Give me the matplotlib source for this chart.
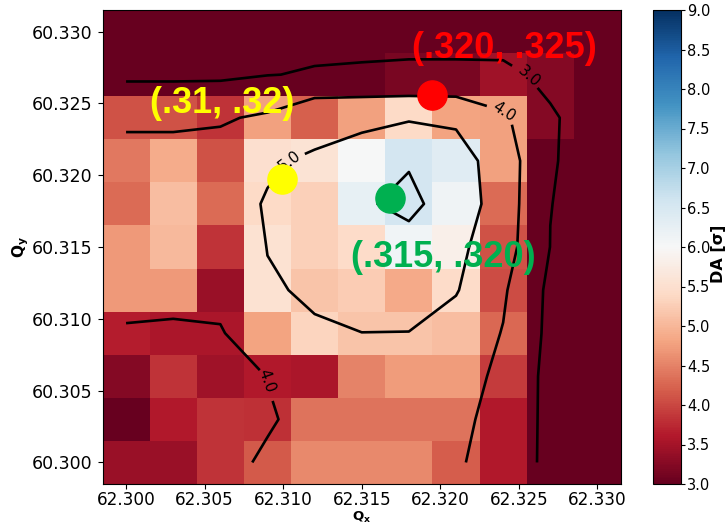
import matplotlib
matplotlib.use('Agg')
import numpy as np
import matplotlib.pyplot as plt

# Tune scan grid (horizontal / vertical tunes)
qx = [62.300, 62.303, 62.306, 62.309, 62.312, 62.315, 62.318, 62.321, 62.324, 62.327, 62.330]
qy = [60.300, 60.303, 60.306, 60.309, 60.312, 60.315, 60.318, 60.321, 60.324, 60.327, 60.330]

# Dynamic aperture per tune point [sigma], rows from qy = 60.300 upwards
da_map = [
    [3.40, 3.40, 3.83, 4.15, 4.56, 4.56, 4.56, 4.18, 3.60, 2.80, 2.80],
    [2.90, 3.60, 3.83, 3.80, 4.37, 4.37, 4.37, 4.37, 3.60, 2.80, 2.80],
    [3.25, 3.83, 3.45, 3.60, 3.55, 4.50, 4.72, 4.72, 3.90, 2.80, 2.80],
    [3.65, 3.55, 3.55, 4.80, 5.34, 5.15, 5.15, 5.07, 4.27, 2.80, 2.80],
    [4.71, 4.71, 3.40, 5.55, 5.15, 5.24, 4.87, 5.42, 4.05, 2.80, 2.80],
    [4.71, 5.02, 3.83, 5.55, 5.28, 5.42, 6.11, 5.83, 4.10, 2.80, 2.80],
    [4.30, 5.07, 4.30, 5.40, 5.28, 6.24, 6.55, 6.13, 4.30, 2.80, 2.80],
    [4.41, 4.88, 4.10, 5.50, 5.57, 6.00, 6.55, 6.36, 4.76, 2.80, 2.80],
    [4.10, 4.10, 3.83, 4.76, 4.20, 4.76, 5.40, 4.80, 4.76, 3.25, 2.80],
    [2.80, 2.80, 2.80, 2.80, 2.80, 2.80, 3.15, 3.15, 3.45, 3.25, 2.80],
    [2.80, 2.80, 2.80, 2.80, 2.80, 2.80, 2.80, 2.80, 2.80, 2.80, 2.80],
]

# Smoothed DA used for the iso-lines, same grid
da_smooth = [
    [3.40, 3.40, 3.79, 4.10, 4.50, 4.50, 4.50, 4.13, 3.51, 2.80, 2.80],
    [3.10, 3.60, 3.70, 3.93, 4.23, 4.40, 4.40, 4.32, 3.54, 2.80, 2.80],
    [3.30, 3.80, 3.60, 4.017, 4.40, 4.70, 4.75, 4.83, 3.57, 2.80, 2.80],
    [3.90, 3.90, 3.90, 4.90, 4.96, 4.99, 4.98, 4.60, 3.96, 2.78, 2.80],
    [4.33, 4.20, 4.38, 4.96, 5.05, 5.50, 5.50, 5.06, 4.12, 2.80, 2.80],
    [4.50, 4.60, 4.60, 5.01, 5.50, 5.60, 5.70, 5.22, 4.43, 2.99, 2.80],
    [4.40, 4.50, 4.80, 5.035, 5.50, 5.90, 6.20, 5.575, 4.51, 3.01, 2.80],
    [4.20, 4.20, 4.38, 4.94, 5.07, 5.28, 5.93, 5.40, 4.54, 3.04, 2.80],
    [3.90, 3.90, 3.90, 4.14, 4.80, 4.85, 4.91, 4.85, 4.17, 3.05, 2.80],
    [2.83, 2.83, 2.85, 2.98, 3.05, 3.08, 3.11, 3.11, 3.10, 2.90, 2.80],
    [2.80, 2.80, 2.80, 2.80, 2.80, 2.80, 2.80, 2.80, 2.80, 2.80, 2.80],
]
contour_levels = [3.0, 4.0, 5.0, 6.0]

# Working points
wp_names = ['(.31, .32)', '(.320, .325)', '(.315, .320)']
wp_qx = [62.3099, 62.3195, 62.3168]
wp_qy = [60.3197, 60.3256, 60.3184]
wp_colors = ['#ffff00', '#ff0000', '#00b050']
wp_text_xy = [(62.3061, 60.3250), (62.3241, 60.3288), (62.3202, 60.3143)]

fig = plt.figure(figsize=(7.25, 5.26), dpi=100)
ax = fig.add_axes([102.5 / 725, 1 - 484 / 526, 518.5 / 725, 474 / 526])
cax = fig.add_axes([653 / 725, 1 - 484 / 526, 28 / 725, 474 / 526])

mesh = ax.pcolormesh(qx, qy, np.array(da_map), cmap='RdBu', vmin=3, vmax=9,
                     shading='nearest')

cs = ax.contour(qx, qy, np.array(da_smooth), levels=contour_levels,
                colors='k', linewidths=1.9)
ax.clabel(cs, levels=[3.0, 4.0, 5.0], fmt='%1.1f', fontsize=11,
          manual=[(62.3257, 60.3269), (62.3240, 60.3244),
                  (62.3101, 60.3213), (62.3090, 60.3057)])

for x, y, c in zip(wp_qx, wp_qy, wp_colors):
    ax.plot(x, y, 'o', color=c, markersize=21, zorder=5)
for (tx, ty), name, c in zip(wp_text_xy, wp_names, wp_colors):
    ax.text(tx, ty, name, color=c, fontsize=26, fontweight='bold',
            family='Liberation Sans', ha='center', va='center', zorder=6)

ax.set_xticks([62.300, 62.305, 62.310, 62.315, 62.320, 62.325, 62.330])
ax.set_yticks([60.300, 60.305, 60.310, 60.315, 60.320, 60.325, 60.330])
ax.xaxis.set_major_formatter(plt.FormatStrFormatter('%.3f'))
ax.yaxis.set_major_formatter(plt.FormatStrFormatter('%.3f'))
ax.tick_params(labelsize=12.5)
ax.tick_params(axis='x', labelsize=12.2, pad=1.5)
ax.set_ylabel(r'$\mathbf{Q_y}$', fontsize=11, labelpad=1)

# x label sits right at the bottom edge of the figure
fig.text(ax.get_position().x0 + ax.get_position().width / 2, 1 / 526,
         r'$\mathbf{Q_x}$', fontsize=9.5, ha='center', va='bottom')

cb = fig.colorbar(mesh, cax=cax, ticks=[3.0, 3.5, 4.0, 4.5, 5.0, 5.5, 6.0,
                                         6.5, 7.0, 7.5, 8.0, 8.5, 9.0])
cb.ax.yaxis.set_major_formatter(plt.FormatStrFormatter('%.1f'))
cb.ax.tick_params(labelsize=10.5, length=3, pad=1.5)
fig.text(718 / 725, 1 - 254 / 526, 'DA [σ]', rotation=90, fontsize=11.5,
         fontweight='bold', ha='center', va='center')

fig.savefig('out.png', dpi=100)
